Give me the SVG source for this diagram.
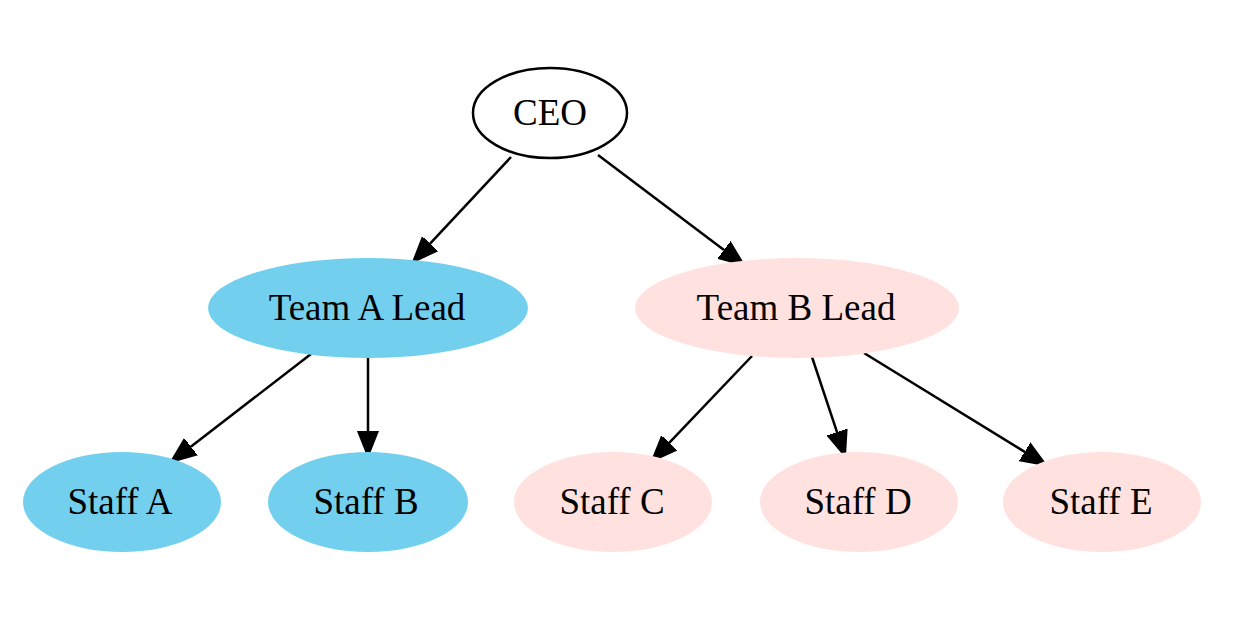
<svg xmlns="http://www.w3.org/2000/svg" width="1244" height="622" viewBox="0 0 1244 622">
<style>
text { font-family: "Liberation Serif", "Times New Roman", serif; font-size: 37px; fill: #000; text-anchor: middle; }
.a { fill: #72D0EE; stroke: none; }
.b { fill: #FFE2DF; stroke: none; }
.ceo { fill: #fff; stroke: #000; stroke-width: 2.5; }
.edge { stroke: #000; stroke-width: 2.5; fill: none; }
</style>
<defs>
<marker id="arr" viewBox="0 -12 28 24" markerWidth="28" markerHeight="24" refX="0" refY="0" orient="auto" markerUnits="userSpaceOnUse">
<path d="M0,-10 L25,0 L0,10 Z" fill="#000" stroke="#000" stroke-width="2"/>
</marker>
</defs>
<rect width="1244" height="622" fill="#fff"/>
<g id="edges">
<line class="edge" x1="511" y1="157" x2="430.1" y2="243.7" marker-end="url(#arr)"/>
<line class="edge" x1="598" y1="155" x2="724" y2="250" marker-end="url(#arr)"/>
<line class="edge" x1="311" y1="354" x2="190.8" y2="446.7" marker-end="url(#arr)"/>
<line class="edge" x1="368" y1="357" x2="368" y2="431" marker-end="url(#arr)"/>
<line class="edge" x1="752" y1="356" x2="669.2" y2="442.9" marker-end="url(#arr)"/>
<line class="edge" x1="812" y1="357" x2="837.1" y2="432.3" marker-end="url(#arr)"/>
<line class="edge" x1="864" y1="353" x2="1024.7" y2="451.9" marker-end="url(#arr)"/>
</g>
<g id="ceo">
<ellipse class="ceo" cx="550" cy="113" rx="77" ry="45"/>
<text x="550" y="125">CEO</text>
</g>
<g id="teamA">
<ellipse class="a" cx="368" cy="308" rx="160" ry="50"/>
<text x="367" y="320">Team A Lead</text>
</g>
<g id="teamB">
<ellipse class="b" cx="797" cy="308" rx="162" ry="50"/>
<text x="796" y="320">Team B Lead</text>
</g>
<g id="staffA">
<ellipse class="a" cx="122" cy="502" rx="99" ry="50"/>
<text x="120" y="514">Staff A</text>
</g>
<g id="staffB">
<ellipse class="a" cx="368" cy="502" rx="100" ry="50"/>
<text x="366" y="514">Staff B</text>
</g>
<g id="staffC">
<ellipse class="b" cx="613" cy="502" rx="99" ry="50"/>
<text x="612" y="514">Staff C</text>
</g>
<g id="staffD">
<ellipse class="b" cx="859" cy="502" rx="99" ry="50"/>
<text x="858" y="514">Staff D</text>
</g>
<g id="staffE">
<ellipse class="b" cx="1102" cy="502" rx="99" ry="50"/>
<text x="1101" y="514">Staff E</text>
</g>
</svg>
